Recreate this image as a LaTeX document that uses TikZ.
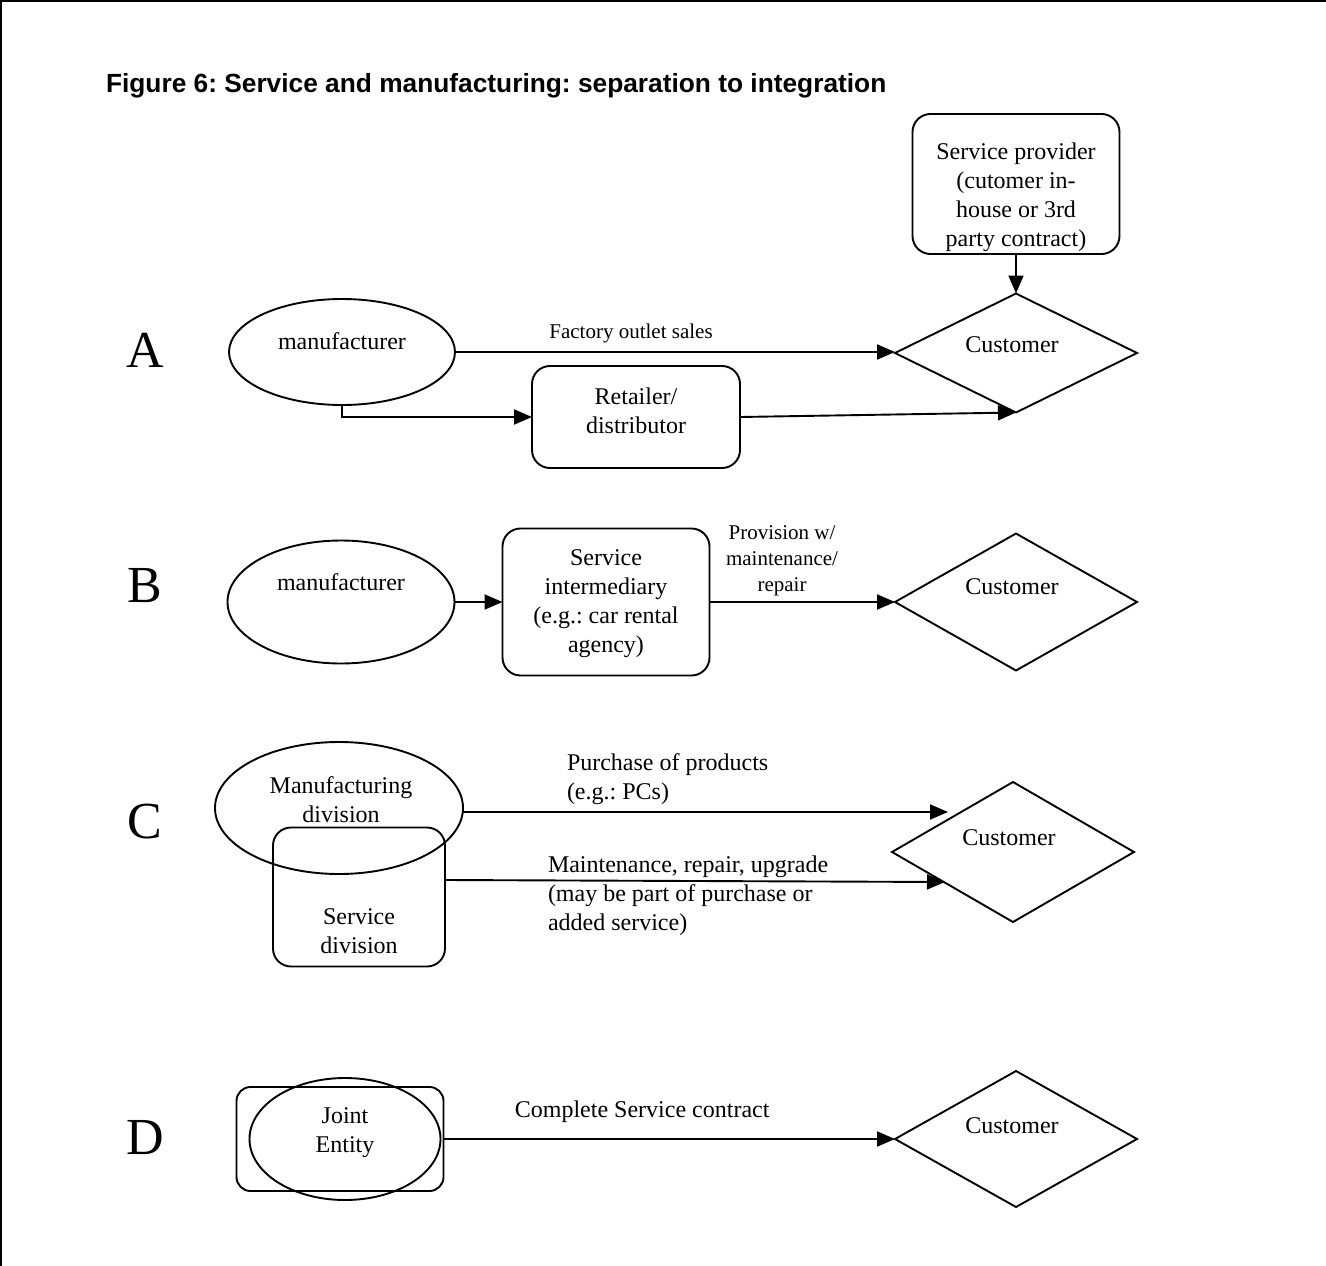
\documentclass[tikz,border=0pt]{standalone}
\usepackage{fontspec}
\setmainfont{Liberation Serif}
\newfontfamily\titlefont{Liberation Sans}
\usetikzlibrary{shapes.geometric,arrows.meta,calc}
\begin{document}
\frenchspacing
\begin{tikzpicture}[x=1pt,y=-1pt,
  line width=1.9pt,
  every node/.style={inner sep=0pt,outer sep=0pt},
  txt/.style={align=center,font=\fontsize{24}{29}\selectfont},
  smalltxt/.style={align=center,font=\fontsize{21}{26}\selectfont},
  lefttxt/.style={align=left,anchor=north west,font=\fontsize{24}{29}\selectfont},
  bigletter/.style={font=\fontsize{52}{52}\selectfont},
  oval/.style={draw,ellipse},
  rbox/.style={draw,rectangle,rounded corners=18pt},
  cust/.style={draw,diamond,minimum width=242pt},
  arr/.style={-{Triangle[length=18pt,width=15pt]}}
]
\useasboundingbox (0,0) rectangle (1326,1266);
\draw[line width=2.2pt] (1,1266) -- (1,1) -- (1326,1);
\node[anchor=base west,font=\titlefont\bfseries\fontsize{26.3}{30}\selectfont] (title) at (106,92) {Figure 6: Service and manufacturing: separation to integration};

% ---------- A ----------
\node[bigletter] (lA) at (145,350) {A};
\node[oval,minimum width=226pt,minimum height=106pt] (mA) at (342,352) {};
\node[txt] (mAt) at (342,341) {manufacturer};
\node[cust,minimum height=119pt] (cA) at (1016,353) {};
\node[txt] (cAt) at (1012,345) {Customer};
\node[rbox,minimum width=207pt,minimum height=140pt] (sp) at (1016,184) {};
\node[txt] (spt) at (1016,197) {Service provider\\(cutomer in-\\house or 3rd\\party contract)};
\node[rbox,minimum width=208pt,minimum height=102pt] (ret) at (636,417) {};
\node[txt] (rett) at (636,411) {Retailer/\\distributor};
\draw[arr] (mA.east) -- (mA.east -| cA.west) node[smalltxt,pos=0.4,above=9pt] (fos) {Factory outlet sales};
\draw[arr] (sp.south) -- (cA.north);
\draw[arr] (mA.south) |- (ret.west);
\draw[arr] (ret.east) -- (cA.south);

% ---------- B ----------
\node[bigletter] (lB) at (145,586) {B};
\node[oval,minimum width=227pt,minimum height=123pt] (mB) at (341,602) {};
\node[txt] (mBt) at (341,582) {manufacturer};
\node[rbox,minimum width=207pt,minimum height=147pt] (si) at (606,602) {};
\node[txt] (sit) at (606,604) {Service\\intermediary\\(e.g.: car rental\\agency)};
\node[cust,minimum height=137pt] (cB) at (1016,602) {};
\node[txt] (cBt) at (1012,587) {Customer};
\draw[arr] (mB.east) -- (si.west);
\draw[arr] (si.east) -- (cB.west);
\node[smalltxt] (prov) at (782,561) {Provision w/\\maintenance/\\repair};

% ---------- C ----------
\node[bigletter] (lC) at (145,822) {C};
\node[oval,minimum width=248pt,minimum height=132pt] (md) at (339,808) {};
\node[txt] (mdt) at (341,800) {Manufacturing\\division};
\node[rbox,minimum width=172pt,minimum height=139pt] (sd) at (359,897) {};
\node[txt] (sdt) at (359,931) {Service\\division};
\node[cust,minimum height=140pt] (cC) at (1013,852) {};
\node[txt] (cCt) at (1009,838) {Customer};
\coordinate (pC1) at (948,812);
\coordinate (pC2) at (945,882);
\draw[arr] (md.east |- pC1) -- (pC1);
\draw[arr] (sd.east |- 0,880) -- (pC2);
\node[lefttxt] (pur) at (567,754) {Purchase of products\\(e.g.: PCs)};
\node[lefttxt] (mnt) at (548,856) {Maintenance, repair, upgrade\\(may be part of purchase or\\added service)};

% ---------- D ----------
\node[bigletter] (lD) at (145,1138) {D};
\node[rbox,rounded corners=14pt,minimum width=207pt,minimum height=104pt] (je) at (340,1139) {};
\node[oval,minimum width=191pt,minimum height=122pt] (jo) at (345,1139) {};
\node[txt] (jet) at (345,1133) {Joint\\Entity};
\node[cust,minimum height=136pt] (cD) at (1016,1139) {};
\node[txt] (cDt) at (1012,1126) {Customer};
\draw[arr] (je.east) -- (cD.west) node[txt,pos=0.44,above=16pt] (csc) {Complete Service contract};
\end{tikzpicture}
\end{document}
